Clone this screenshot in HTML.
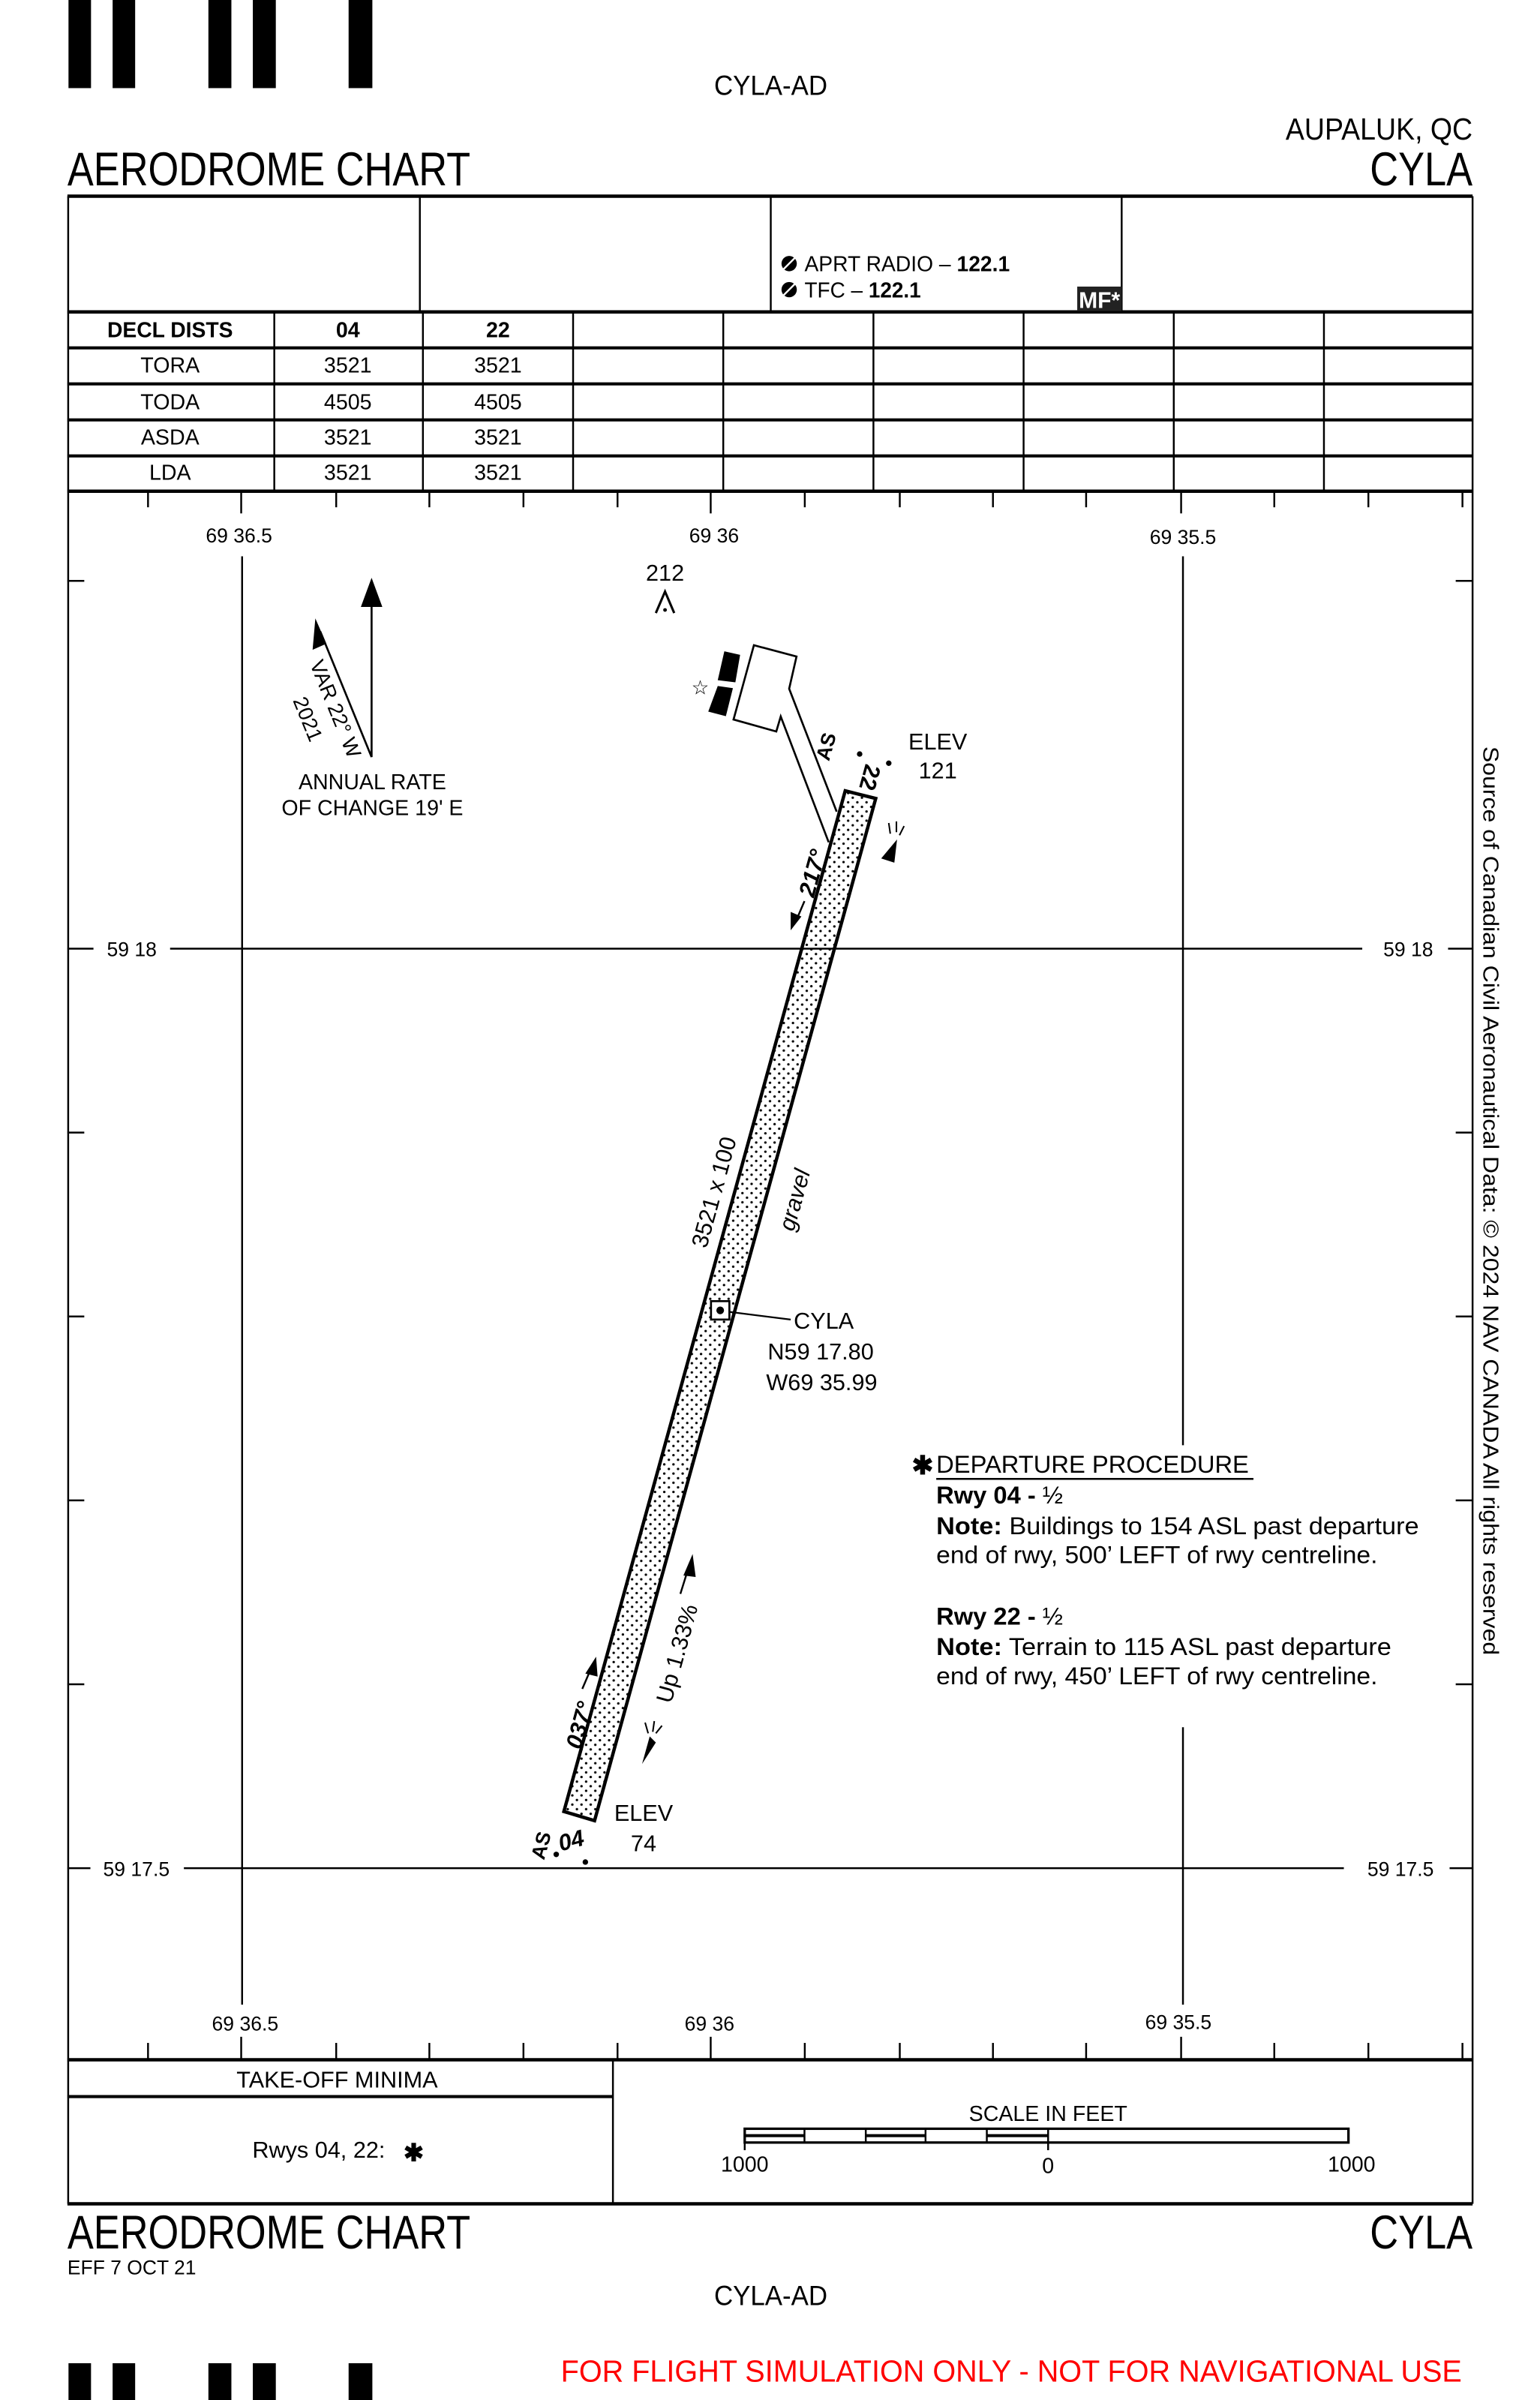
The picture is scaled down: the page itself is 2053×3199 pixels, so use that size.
<!DOCTYPE html>
<html><head><meta charset="utf-8"><style>html,body{margin:0;padding:0;background:#fff}svg{display:block}</style></head>
<body>
<svg width="2053" height="3199" viewBox="0 0 1005 1566" preserveAspectRatio="none" xmlns="http://www.w3.org/2000/svg" font-family="Liberation Sans, sans-serif">
<defs>
<pattern id="dots" width="6" height="6" patternUnits="userSpaceOnUse"><circle cx="1.5" cy="1.5" r="0.8" fill="#000"/><circle cx="4.5" cy="4.5" r="0.8" fill="#000"/></pattern>
</defs>
<rect width="1005" height="1566" fill="#fff"/>
<g fill="#000">
<rect x="44.7" y="0" width="14.7" height="57.5"/><rect x="73.5" y="0" width="14.7" height="57.5"/>
<rect x="136" y="0" width="15" height="57.5"/><rect x="165" y="0" width="15" height="57.5"/>
<rect x="227.5" y="0" width="15.5" height="57.5"/>
<rect x="44.7" y="1542" width="14.7" height="24"/><rect x="73.5" y="1542" width="14.7" height="24"/>
<rect x="136" y="1542" width="15" height="24"/><rect x="165" y="1542" width="15" height="24"/>
<rect x="227.5" y="1542" width="15.5" height="24"/>
</g>
<g fill="#000">
<text x="503" y="62" font-size="18" text-anchor="middle" textLength="74" lengthAdjust="spacingAndGlyphs">CYLA-AD</text>
<text x="961" y="91" font-size="20" text-anchor="end" textLength="122" lengthAdjust="spacingAndGlyphs">AUPALUK, QC</text>
<text x="44" y="121" font-size="31" textLength="263" lengthAdjust="spacingAndGlyphs">AERODROME CHART</text>
<text x="961" y="121" font-size="31" text-anchor="end" textLength="67" lengthAdjust="spacingAndGlyphs">CYLA</text>
</g>
<g stroke="#000" fill="none">
<line x1="44" y1="128" x2="961" y2="128" stroke-width="2.2"/>
<line x1="44.5" y1="128" x2="44.5" y2="1438" stroke-width="1.2"/>
<line x1="961" y1="128" x2="961" y2="1438" stroke-width="1.2"/>
<line x1="274" y1="128" x2="274" y2="203" stroke-width="1.2"/>
<line x1="503" y1="128" x2="503" y2="203" stroke-width="1.2"/>
<line x1="732" y1="128" x2="732" y2="203" stroke-width="1.2"/>
<line x1="44" y1="203.5" x2="961" y2="203.5" stroke-width="2.2"/>
<line x1="44" y1="227" x2="961" y2="227" stroke-width="2"/>
<line x1="44" y1="250.5" x2="961" y2="250.5" stroke-width="2"/>
<line x1="44" y1="274" x2="961" y2="274" stroke-width="2"/>
<line x1="44" y1="297.5" x2="961" y2="297.5" stroke-width="2"/>
<line x1="44" y1="320.5" x2="961" y2="320.5" stroke-width="2.2"/>
<g stroke-width="1.2">
<line x1="179" y1="203" x2="179" y2="320"/><line x1="276" y1="203" x2="276" y2="320"/>
<line x1="374" y1="203" x2="374" y2="320"/><line x1="472" y1="203" x2="472" y2="320"/>
<line x1="570" y1="203" x2="570" y2="320"/><line x1="668" y1="203" x2="668" y2="320"/>
<line x1="766" y1="203" x2="766" y2="320"/><line x1="864" y1="203" x2="864" y2="320"/>
</g>
<line x1="44" y1="1344" x2="961" y2="1344" stroke-width="2.2"/>
<line x1="44" y1="1438" x2="961" y2="1438" stroke-width="2.2"/>
<line x1="400" y1="1344" x2="400" y2="1438" stroke-width="1.2"/>
<line x1="44" y1="1368" x2="400" y2="1368" stroke-width="2"/>
</g>
<g font-size="14">
<circle cx="515" cy="172" r="5" fill="#000"/><line x1="511" y1="176" x2="519" y2="168" stroke="#fff" stroke-width="1.2"/>
<circle cx="515" cy="189" r="5" fill="#000"/><line x1="511" y1="193" x2="519" y2="185" stroke="#fff" stroke-width="1.2"/>
<text x="525" y="177" textLength="134" lengthAdjust="spacingAndGlyphs">APRT RADIO – <tspan font-weight="bold">122.1</tspan></text>
<text x="525" y="194" textLength="76" lengthAdjust="spacingAndGlyphs">TFC – <tspan font-weight="bold">122.1</tspan></text>
<rect x="703" y="187" width="29" height="16" fill="#222"/>
<text x="704" y="201" font-size="15" fill="#fff" font-weight="bold" textLength="27" lengthAdjust="spacingAndGlyphs">MF*</text>
</g>
<g font-size="14" text-anchor="middle">
<text x="111" y="220" font-weight="bold" textLength="82" lengthAdjust="spacingAndGlyphs">DECL DISTS</text>
<text x="227" y="220" font-weight="bold">04</text><text x="325" y="220" font-weight="bold">22</text>
<text x="111" y="243">TORA</text><text x="227" y="243">3521</text><text x="325" y="243">3521</text>
<text x="111" y="267">TODA</text><text x="227" y="267">4505</text><text x="325" y="267">4505</text>
<text x="111" y="290">ASDA</text><text x="227" y="290">3521</text><text x="325" y="290">3521</text>
<text x="111" y="313">LDA</text><text x="227" y="313">3521</text><text x="325" y="313">3521</text>
</g>
<g stroke="#000" stroke-width="1.2">
<line x1="96.6" y1="320" x2="96.6" y2="331"/><line x1="157.4" y1="320" x2="157.4" y2="335"/>
<line x1="219.4" y1="320" x2="219.4" y2="331"/><line x1="280.2" y1="320" x2="280.2" y2="331"/>
<line x1="341.6" y1="320" x2="341.6" y2="331"/><line x1="403" y1="320" x2="403" y2="331"/>
<line x1="463.8" y1="320" x2="463.8" y2="335"/><line x1="525.2" y1="320" x2="525.2" y2="331"/>
<line x1="587.2" y1="320" x2="587.2" y2="331"/><line x1="648" y1="320" x2="648" y2="331"/>
<line x1="708.8" y1="320" x2="708.8" y2="331"/><line x1="770.8" y1="320" x2="770.8" y2="335"/>
<line x1="831.6" y1="320" x2="831.6" y2="331"/><line x1="893" y1="320" x2="893" y2="331"/>
<line x1="954.4" y1="320" x2="954.4" y2="331"/>
<line x1="96.6" y1="1333" x2="96.6" y2="1344"/><line x1="157.4" y1="1329" x2="157.4" y2="1344"/>
<line x1="219.4" y1="1333" x2="219.4" y2="1344"/><line x1="280.2" y1="1333" x2="280.2" y2="1344"/>
<line x1="341.6" y1="1333" x2="341.6" y2="1344"/><line x1="403" y1="1333" x2="403" y2="1344"/>
<line x1="463.8" y1="1329" x2="463.8" y2="1344"/><line x1="525.2" y1="1333" x2="525.2" y2="1344"/>
<line x1="587.2" y1="1333" x2="587.2" y2="1344"/><line x1="648" y1="1333" x2="648" y2="1344"/>
<line x1="708.8" y1="1333" x2="708.8" y2="1344"/><line x1="770.8" y1="1329" x2="770.8" y2="1344"/>
<line x1="831.6" y1="1333" x2="831.6" y2="1344"/><line x1="893" y1="1333" x2="893" y2="1344"/>
<line x1="954.4" y1="1333" x2="954.4" y2="1344"/>
<line x1="44" y1="379" x2="55" y2="379"/><line x1="44" y1="739" x2="55" y2="739"/>
<line x1="44" y1="859" x2="55" y2="859"/><line x1="44" y1="979" x2="55" y2="979"/>
<line x1="44" y1="1099" x2="55" y2="1099"/>
<line x1="950" y1="379" x2="961" y2="379"/><line x1="950" y1="739" x2="961" y2="739"/>
<line x1="950" y1="859" x2="961" y2="859"/><line x1="950" y1="979" x2="961" y2="979"/>
<line x1="950" y1="1099" x2="961" y2="1099"/>
<line x1="158" y1="363" x2="158" y2="1308"/>
<line x1="772" y1="363" x2="772" y2="943"/><line x1="772" y1="1127" x2="772" y2="1308"/>
<line x1="44" y1="619" x2="61" y2="619"/><line x1="111" y1="619" x2="889" y2="619"/><line x1="945" y1="619" x2="961" y2="619"/>
<line x1="44" y1="1219" x2="59" y2="1219"/><line x1="120" y1="1219" x2="877" y2="1219"/><line x1="946" y1="1219" x2="961" y2="1219"/>
</g>
<g font-size="13" text-anchor="middle">
<text x="156" y="354">69 36.5</text><text x="466" y="354">69 36</text><text x="772" y="355">69 35.5</text>
<text x="160" y="1325">69 36.5</text><text x="463" y="1325">69 36</text><text x="769" y="1324">69 35.5</text>
<text x="86" y="624">59 18</text><text x="919" y="624">59 18</text>
<text x="89" y="1224">59 17.5</text><text x="914" y="1224">59 17.5</text>
</g>
<g stroke="#000" stroke-width="1.3" fill="#000">
<line x1="242.5" y1="494" x2="242.5" y2="392"/>
<polygon points="242.5,377 235.5,396 249.5,396" stroke="none"/>
<line x1="242.5" y1="494" x2="209" y2="412"/>
<polygon points="205.8,403.5 204,424 213,420" stroke="none"/>
</g>
<text transform="translate(202,433) rotate(67.9)" font-size="13.5">VAR 22° W</text>
<text transform="translate(191,457) rotate(67.9)" font-size="13.5">2021</text>
<g font-size="14" text-anchor="middle">
<text x="243" y="515">ANNUAL RATE</text><text x="243" y="532">OF CHANGE 19' E</text>
</g>
<text x="434" y="379" font-size="15" text-anchor="middle">212</text>
<path d="M428,400 L434,386 L440,400" stroke="#000" stroke-width="1.5" fill="none"/><circle cx="434" cy="398" r="1.2"/>
<path d="M546,529.6 L515,449.4 L519.8,428.4 L492,421 L478.7,469.5 L506.6,477.3 L509.5,467.5 L540.8,549.6" stroke="#000" stroke-width="1.3" fill="#fff"/>
<polygon points="472.7,425 483,427.3 479.9,445.2 468.4,443.8" fill="#000"/>
<polygon points="468.4,447.6 478.3,449 473.7,467.3 462.2,464.3" fill="#000"/>
<text x="457" y="453" font-size="13" text-anchor="middle">☆</text>
<polygon points="551.6,516 571.5,521 388,1188 368,1182" fill="url(#dots)" stroke="#000" stroke-width="2.2"/>
<text transform="translate(531,586) rotate(-74.6)" font-size="15" font-weight="bold" font-style="italic">217°</text>
<line x1="525" y1="588" x2="519" y2="602" stroke="#000" stroke-width="1.2"/>
<polygon points="516,607 516,595 523,598"/>
<text transform="translate(461,815) rotate(-74.6)" font-size="15">3521 x 100</text>
<text transform="translate(518,804) rotate(-74.6)" font-size="15" font-style="italic">gravel</text>
<text transform="translate(438,1112) rotate(-74.6)" font-size="15">Up 1.33%</text>
<line x1="444" y1="1040" x2="449" y2="1024" stroke="#000" stroke-width="1.2"/>
<polygon points="452,1014 446,1028 454,1029"/>
<text transform="translate(379,1142) rotate(-74.6)" font-size="15" font-weight="bold" font-style="italic">037°</text>
<line x1="380" y1="1102" x2="386" y2="1088" stroke="#000" stroke-width="1.2"/>
<polygon points="389,1081 382,1092 390,1094"/>
<text transform="translate(565,498) rotate(105.4)" font-size="15" font-weight="bold">22</text>
<text transform="translate(541,497) rotate(-74.6)" font-size="13" font-weight="bold">AS</text>
<circle cx="561" cy="492" r="1.8"/><circle cx="580" cy="498" r="1.8"/>
<text x="612" y="489" font-size="15" text-anchor="middle">ELEV</text><text x="612" y="508" font-size="15" text-anchor="middle">121</text>
<text transform="translate(366,1208) rotate(-15)" font-size="15" font-weight="bold" font-style="italic">04</text>
<text transform="translate(355,1214) rotate(-74.6)" font-size="13" font-weight="bold">AS</text>
<circle cx="363" cy="1210" r="1.8"/><circle cx="382" cy="1215" r="1.8"/>
<text x="420" y="1188" font-size="15" text-anchor="middle">ELEV</text><text x="420" y="1208" font-size="15" text-anchor="middle">74</text>
<polygon points="583,547 577,562 586,562" transform="rotate(18 582 555)"/>
<path d="M580,537 L581,544 M585,536 L585,543 M590,539 L587,545" stroke="#000" stroke-width="1"/>
<polygon points="424,1133 419,1151 428,1137" />
<path d="M421,1124 L423,1131 M427,1123 L426,1130 M432,1126 L428,1131" stroke="#000" stroke-width="1"/>
<rect x="464" y="849" width="12" height="12" fill="#fff" stroke="#000" stroke-width="1.3"/>
<circle cx="470" cy="855" r="2.5"/>
<line x1="476" y1="856" x2="516" y2="861" stroke="#000" stroke-width="1.1"/>
<g font-size="15">
<text x="518" y="867">CYLA</text><text x="501" y="887">N59 17.80</text><text x="500" y="907">W69 35.99</text>
</g>
<g font-size="16">
<text x="595" y="962" font-size="17" font-weight="bold">✱</text>
<text x="611" y="961" textLength="204" lengthAdjust="spacingAndGlyphs">DEPARTURE PROCEDURE</text>
<line x1="611" y1="965" x2="818" y2="965" stroke="#000" stroke-width="1.2"/>
<text x="611" y="981"><tspan font-weight="bold">Rwy 04 -</tspan>  ½</text>
<text x="611" y="1001" textLength="315" lengthAdjust="spacingAndGlyphs"><tspan font-weight="bold">Note:</tspan> Buildings to 154 ASL past departure</text>
<text x="611" y="1020" textLength="288" lengthAdjust="spacingAndGlyphs">end of rwy, 500’ LEFT of rwy centreline.</text>
<text x="611" y="1060"><tspan font-weight="bold">Rwy 22 -</tspan> ½</text>
<text x="611" y="1080" textLength="297" lengthAdjust="spacingAndGlyphs"><tspan font-weight="bold">Note:</tspan> Terrain to 115 ASL past departure</text>
<text x="611" y="1099" textLength="288" lengthAdjust="spacingAndGlyphs">end of rwy, 450’ LEFT of rwy centreline.</text>
</g>
<text transform="translate(968,487) rotate(90)" font-size="14" textLength="593" lengthAdjust="spacingAndGlyphs">Source of Canadian Civil Aeronautical Data: © 2024 NAV CANADA All rights reserved</text>
<text x="220" y="1362" font-size="15" text-anchor="middle">TAKE-OFF MINIMA</text>
<text x="208" y="1408" font-size="15" text-anchor="middle">Rwys 04, 22:</text>
<text x="270" y="1410" font-size="16" font-weight="bold" text-anchor="middle">✱</text>
<text x="684" y="1384" font-size="14" text-anchor="middle">SCALE IN FEET</text>
<rect x="486" y="1389" width="394" height="9" fill="#fff" stroke="#000" stroke-width="1.6"/>
<g stroke="#000" stroke-width="1.2">
<line x1="486" y1="1393.5" x2="525" y2="1393.5" stroke-width="2"/>
<line x1="565" y1="1393.5" x2="604" y2="1393.5" stroke-width="2"/>
<line x1="644" y1="1393.5" x2="684" y2="1393.5" stroke-width="2"/>
<line x1="525" y1="1389" x2="525" y2="1398"/><line x1="565" y1="1389" x2="565" y2="1398"/>
<line x1="604" y1="1389" x2="604" y2="1398"/><line x1="644" y1="1389" x2="644" y2="1398"/>
<line x1="684" y1="1389" x2="684" y2="1403"/><line x1="486" y1="1389" x2="486" y2="1403"/>
</g>
<g font-size="14" text-anchor="middle"><text x="486" y="1417">1000</text><text x="684" y="1418">0</text><text x="882" y="1417">1000</text></g>
<text x="44" y="1467" font-size="31" textLength="263" lengthAdjust="spacingAndGlyphs">AERODROME CHART</text>
<text x="961" y="1467" font-size="31" text-anchor="end" textLength="67" lengthAdjust="spacingAndGlyphs">CYLA</text>
<text x="44" y="1484" font-size="13" textLength="84" lengthAdjust="spacingAndGlyphs">EFF 7 OCT 21</text>
<text x="503" y="1504" font-size="18" text-anchor="middle" textLength="74" lengthAdjust="spacingAndGlyphs">CYLA-AD</text>
<text x="366" y="1554" font-size="20" fill="#ff0000" textLength="588" lengthAdjust="spacingAndGlyphs">FOR FLIGHT SIMULATION ONLY - NOT FOR NAVIGATIONAL USE</text>
</svg>
</body></html>
